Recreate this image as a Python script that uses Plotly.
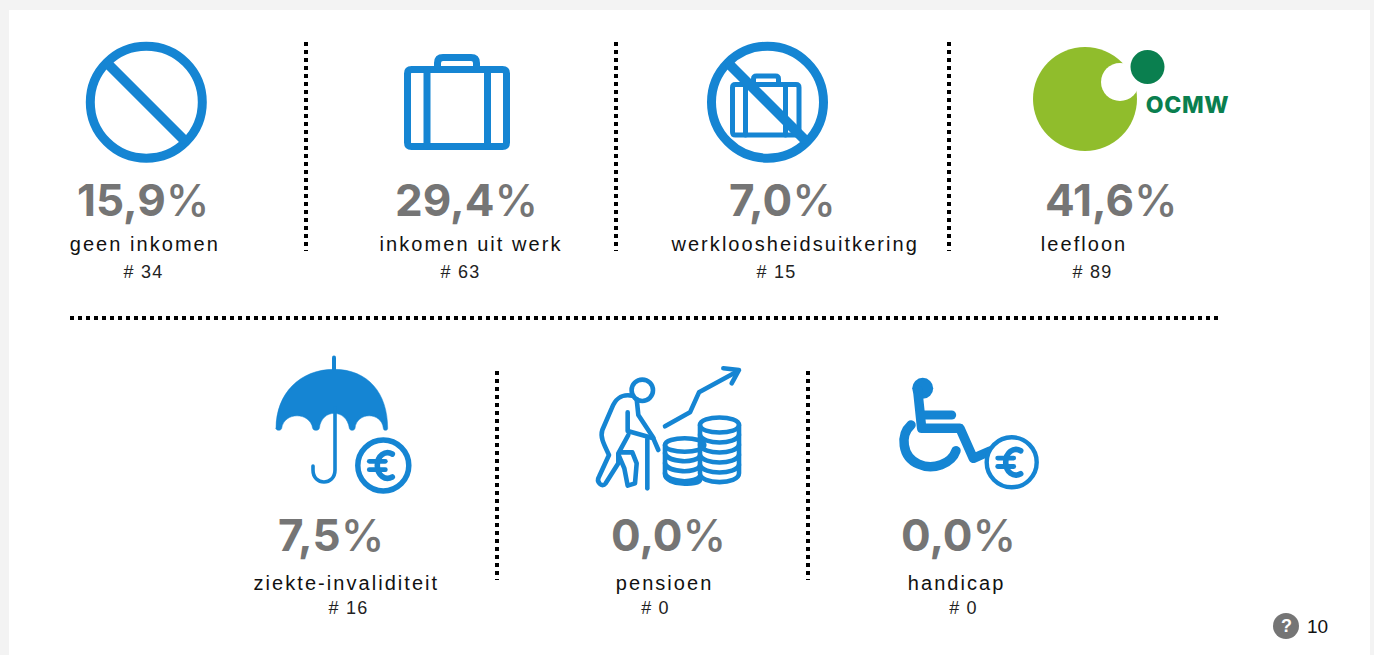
import re
import plotly.graph_objects as go

# ---- data ----
categories = ["geen inkomen", "inkomen uit werk", "werkloosheidsuitkering", "leefloon",
              "ziekte-invaliditeit", "pensioen", "handicap"]
percentages = [15.9, 29.4, 7.0, 41.6, 7.5, 0.0, 0.0]
counts = [34, 63, 15, 89, 16, 0, 0]
footer_count = 10

# ---- layout (page pixels) ----
pct_x = [143, 466, 782, 1111, 331, 668, 958]
label_x = [145, 471, 794, 1084, 346, 664.5, 956.5]
count_x = [143.5, 460, 776, 1092, 348, 655.5, 963.5]
pct_y = [200] * 4 + [535] * 3
label_y = [244] * 4 + [583] * 3
count_y = [272] * 4 + [608] * 3
BLUE = "#1585d3"
GREY = "#757575"
shapes = []


def z(path, ox, oy, s=3.0):
    """Convert a path drawn in 3x crop coordinates to page coordinates."""
    return re.sub(r"(-?[\d.]+),(-?[\d.]+)",
                  lambda m: f"{ox + float(m[1]) / s:.2f},{oy + float(m[2]) / s:.2f}", path)


def path(d, width=4.0, color=BLUE, fill=None):
    shapes.append(dict(type="path", path=d, xref="x", yref="y", layer="above",
                       fillcolor=fill or "rgba(0,0,0,0)",
                       line=dict(color=color, width=width)))


def circle(cx, cy, r, width=0.0, color=BLUE, fill=None):
    shapes.append(dict(type="circle", xref="x", yref="y", layer="above",
                       x0=cx - r, x1=cx + r, y0=cy - r, y1=cy + r,
                       fillcolor=fill or "rgba(0,0,0,0)",
                       line=dict(color=color, width=width)))


def rrect(x0, y0, x1, y1, r):
    return (f"M{x0 + r},{y0} L{x1 - r},{y0} Q{x1},{y0} {x1},{y0 + r} L{x1},{y1 - r} "
            f"Q{x1},{y1} {x1 - r},{y1} L{x0 + r},{y1} Q{x0},{y1} {x0},{y1 - r} "
            f"L{x0},{y0 + r} Q{x0},{y0} {x0 + r},{y0} Z")


def euro(cx, cy, ring_r, ring_w):
    circle(cx, cy, ring_r, ring_w, BLUE, "white")
    path(f"M{cx + 9},{cy - 11.5} C{cx + 2},{cy - 15.5} {cx - 6},{cy - 10} {cx - 6},{cy} "
         f"C{cx - 6},{cy + 10} {cx + 2},{cy + 15.5} {cx + 9},{cy + 11.5}", 5.6)
    path(f"M{cx - 14},{cy - 4.2} L{cx + 2},{cy - 4.2}", 4.8)
    path(f"M{cx - 14},{cy + 4.2} L{cx + 2},{cy + 4.2}", 4.8)


def dotted(x0, y0, x1, y1):
    shapes.append(dict(type="line", xref="x", yref="y", layer="above",
                       x0=x0, y0=y0, x1=x1, y1=y1,
                       line=dict(color="black", width=4, dash="4px,4px")))


# card
shapes.append(dict(type="rect", xref="x", yref="y", layer="below", x0=9, x1=1370, y0=10, y1=660,
                   fillcolor="white", line=dict(width=0)))

# separators
for x in (306, 616, 949):
    dotted(x, 42, x, 251)
for x in (497, 808):
    dotted(x, 371, x, 580)
dotted(70, 318, 1219, 318)

# icon 1: no income
circle(146.3, 102.2, 56, 9)
path("M109,65 L183,139", 10)

# icon 2: suitcase
path(rrect(407.5, 69.5, 506.5, 146.5, 4), 7)
path("M427,70 L427,146", 7)
path("M487.5,70 L487.5,146", 7)
path("M437.5,66 L437.5,63 Q437.5,57.5 443,57.5 L471,57.5 Q476.5,57.5 476.5,63 L476.5,66", 7)

# icon 3: no suitcase
circle(767.5, 102.2, 56, 9)
path(rrect(732.5, 84.5, 799, 135, 3), 5)
path("M745.5,85 L745.5,135", 5)
path("M785.5,85 L785.5,135", 5)
path("M753.5,82 L753.5,79 Q753.5,76 756.5,76 L775.5,76 Q778.5,76 778.5,79 L778.5,82", 5)
path("M730,65 L804,139", 10)

# icon 4: OCMW logo
circle(1085, 99, 52, 0, "#90bd2c", "#90bd2c")
circle(1120, 82, 19, 0, "white", "white")
circle(1147.5, 67, 17, 0, "#0a7f4f", "#0a7f4f")

# icon 5: umbrella
path("M334,357.5 L334,370", 4)
path(z("M48,235 C48,130 120,58 222,58 C325,58 383,130 383,235 C383,243 370,243 370,235 "
       "C365,185 290,185 285,235 C283,243 270,243 268,235 C260,175 185,175 178,235 "
       "C176,243 160,243 158,235 C150,185 72,185 65,235 C63,243 48,243 48,235 Z", 260, 350),
     0.5, BLUE, BLUE)
path("M335,408 L335,470 C335,486 313,486 313,470 L313,466", 3.6)
euro(383.3, 465.5, 25.5, 5.5)

# icon 6: pension
STROKE6 = 4.6
circle(642.3, 390.3, 10.7, STROKE6)
man = ["M142,122 C105,115 90,135 80,160 L52,225 C45,245 55,265 72,300 L42,365 "
       "C33,380 50,400 62,385 L100,325 L100,295 L130,240",
       "M128,172 L128,228 L205,250 L220,285",
       "M155,132 L160,180 L205,248",
       "M105,292 L142,292 L155,325 L150,385 L128,392 L118,340 L100,298",
       "M187,252 L187,400"]
for d in man:
    path(z(d, 585, 355), STROKE6)
path(z("M240,214 L315,172 L342,112 L455,50", 585, 355), STROKE6)
path(z("M415,40 L462,45 L440,85", 585, 355), STROKE6)
# coins, left then right stack
path(z("M240,270 C240,243 358,243 358,270 C358,297 240,297 240,270 Z", 585, 355), STROKE6)
path(z("M240,270 L240,358 C240,392 345,392 345,375", 585, 355), STROKE6)
for y in (295, 325, 355):
    path(z(f"M240,{y} C250,{y + 30} 335,{y + 30} 345,{y + 8}", 585, 355), STROKE6)
path(z("M345,210 C345,180 462,180 462,210 C462,240 345,240 345,210 Z", 585, 355), STROKE6)
path(z("M345,210 L345,355 C345,390 462,390 462,355 L462,210", 585, 355), STROKE6)
for y in (240, 270, 300, 330):
    path(z(f"M345,{y} C355,{y + 30} 452,{y + 30} 462,{y}", 585, 355), STROKE6)

# icon 7: disabled
circle(922.7, 388.3, 10.5, 0, BLUE, BLUE)
path(z("M98,75 L110,190 L225,190 L265,280 L315,258", 885, 365), 9.5)
path(z("M112,150 L200,150", 885, 365), 9)
path(z("M78,180 C45,210 50,275 100,297 C145,318 200,295 213,257", 885, 365), 9.5)
euro(1011.7, 462.3, 25, 4.4)

# footer help icon
circle(1286, 626, 13, 0, GREY, GREY)

annotations = []


def text(x, y, s, size, color, family, weight=400):
    annotations.append(dict(x=x, y=y, xref="x", yref="y", text=s, showarrow=False,
                            xanchor="center", yanchor="middle", borderpad=0, borderwidth=0,
                            font=dict(size=size, color=color, family=family, weight=weight)))


LABEL_FONT = "Liberation Sans"
for i, c in enumerate(categories):
    pct = f"{percentages[i]:.1f}".replace(".", ",")
    text(pct_x[i], pct_y[i], pct + '<span style="font-weight:500">%</span>', 44, GREY, "Inter", 700)
    text(label_x[i], label_y[i], c, 20, "#111111", LABEL_FONT)
    text(count_x[i], count_y[i], f"# {counts[i]}", 18, "#222222", LABEL_FONT)
text(1286, 626, "?", 18, "white", "Liberation Sans", 700)
text(1317.5, 626, str(footer_count), 19, "#111111", LABEL_FONT)
text(1187, 105, "OCMW", 23, "#0a7f4f", "Inter", 800)

fig = go.Figure()
fig.add_trace(go.Scatter(x=[0], y=[0], mode="markers", marker=dict(opacity=0), hoverinfo="skip",
                         showlegend=False))
fig.update_layout(
    width=1374, height=655, autosize=False,
    margin=dict(l=0, r=0, t=0, b=0, pad=0),
    paper_bgcolor="#f3f3f3", plot_bgcolor="rgba(0,0,0,0)",
    xaxis=dict(range=[0, 1374], visible=False, fixedrange=True),
    yaxis=dict(range=[655, 0], visible=False, fixedrange=True),
    shapes=shapes, annotations=annotations,
)

post = """
document.body.style.margin = '0';
document.body.style.overflow = 'hidden';
document.querySelectorAll('.shapelayer path').forEach(function (p) {
  if (!(p.style.strokeDasharray && p.style.strokeDasharray !== 'none' && p.style.strokeDasharray !== '0px')) {
    p.style.strokeLinecap = 'round';
    p.style.strokeLinejoin = 'round';
  }
});
document.querySelectorAll('.annotation-text').forEach(function (t) {
  var fs = parseFloat(t.style.fontSize);
  t.style.letterSpacing = fs > 40 ? '0px' : (fs === 20 ? '2.05px' : (fs === 18 && t.textContent.charAt(0) === '#' ? '1.2px' : (fs === 23 ? '0.6px' : '0')));
});
"""
fig.write_html("out.html", config=dict(displayModeBar=False, staticPlot=True), post_script=post)
